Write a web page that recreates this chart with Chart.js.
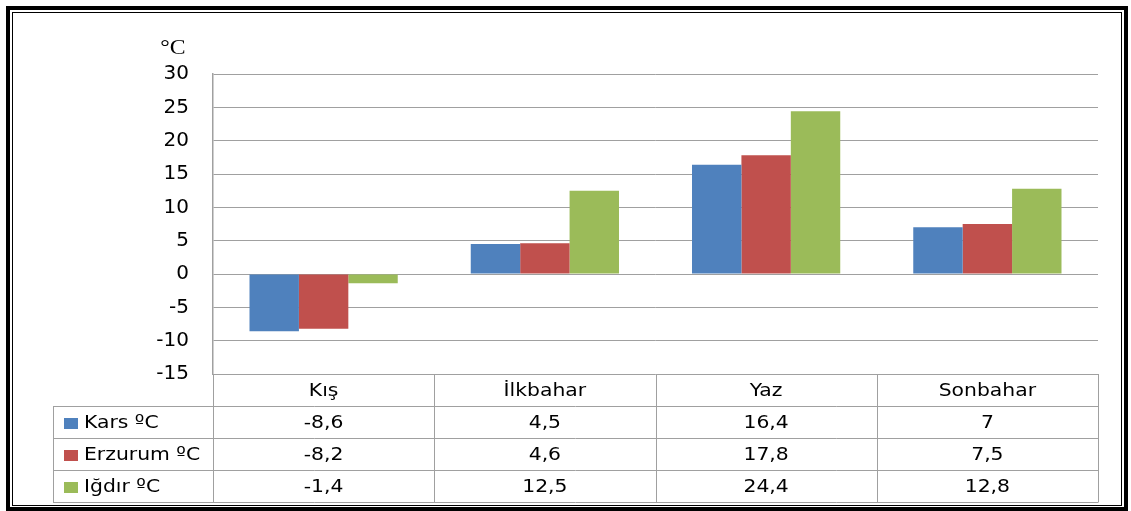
<!DOCTYPE html>
<html>
<head>
<meta charset="utf-8">
<script src="https://cdn.jsdelivr.net/npm/chart.js@4"></script>
<style>
  html, body { margin: 0; padding: 0; background: #fff; }
  #wrap { width: 1131px; height: 511px; }
</style>
</head>
<body>
<div id="wrap"><canvas id="myChart"></canvas></div>
<script>
// data
const seasons = ['Kış', 'İlkbahar', 'Yaz', 'Sonbahar'];
const seriesNames = ['Kars ºC', 'Erzurum ºC', 'Iğdır ºC'];
const karsValues = [-8.6, 4.5, 16.4, 7];
const erzurumValues = [-8.2, 4.6, 17.8, 7.5];
const igdirValues = [-1.4, 12.5, 24.4, 12.8];
const yMin = -15, yMax = 30, yStep = 5;
const unitLabel = '°C';

const colors = ['#4F81BD', '#C0504D', '#9BBB59'];
const gridColor = '#a0a0a0';
const fontFamily = '"DejaVu Sans", sans-serif';

const fmt = v => String(v).replace('.', ',');

// the source picture is a bit stretched sideways, so text is drawn wider
function wideText(ctx, text, x, y, align) {
    ctx.save();
    ctx.translate(x, y);
    ctx.scale(1.13, 1);
    ctx.textAlign = align;
    ctx.fillText(text, 0, 0);
    ctx.restore();
}

// white background + double frame
const framePlugin = {
    id: 'frame',
    beforeDraw(chart) {
        const ctx = chart.ctx;
        ctx.save();
        ctx.fillStyle = '#fff';
        ctx.fillRect(0, 0, chart.width, chart.height);
        ctx.strokeStyle = '#000';
        ctx.lineWidth = 4;
        ctx.strokeRect(8, 8, 1118, 501);
        ctx.lineWidth = 1;
        ctx.strokeRect(12.5, 12.5, 1109, 493);
        ctx.restore();
    },
    afterDraw(chart) {
        const ctx = chart.ctx;
        ctx.save();
        ctx.fillStyle = '#000';
        ctx.font = '21px "Liberation Serif", serif';
        ctx.textBaseline = 'middle';
        wideText(ctx, unitLabel, 173, 48, 'center');
        ctx.restore();
    }
};

// data table under the plot
const tablePlugin = {
    id: 'dataTable',
    afterDraw(chart) {
        const ctx = chart.ctx;
        const xs = chart.scales.x;
        const area = chart.chartArea;
        const top = area.bottom;
        const rowH = 32;
        const tableLeft = 53;
        const nRows = seriesNames.length;
        const bottom = top + rowH * (nRows + 1);
        const catW = (area.right - area.left) / seasons.length;
        const rows = [karsValues, erzurumValues, igdirValues];

        ctx.save();
        ctx.strokeStyle = gridColor;
        ctx.lineWidth = 1;
        ctx.beginPath();
        for (let r = 1; r <= nRows + 1; r++) {
            const y = Math.round(top + r * rowH) + 0.5;
            ctx.moveTo(tableLeft, y);
            ctx.lineTo(area.right, y);
        }
        ctx.moveTo(tableLeft + 0.5, top + rowH);
        ctx.lineTo(tableLeft + 0.5, bottom + 0.5);
        for (let i = 0; i <= seasons.length; i++) {
            const x = Math.round(area.left + i * catW) + 0.5;
            ctx.moveTo(x, top);
            ctx.lineTo(x, bottom + 0.5);
        }
        ctx.stroke();

        ctx.fillStyle = '#000';
        ctx.font = '18px ' + fontFamily;
        ctx.textBaseline = 'middle';
        seasons.forEach((s, i) => {
            wideText(ctx, s, xs.getPixelForValue(i), top + rowH / 2 + 1, 'center');
        });
        rows.forEach((vals, r) => {
            const cy = top + rowH * (r + 1) + rowH / 2 + 1;
            vals.forEach((v, i) => {
                wideText(ctx, fmt(v), xs.getPixelForValue(i), cy, 'center');
            });
            ctx.fillStyle = colors[r];
            ctx.fillRect(64, cy - 5, 14, 11);
            ctx.fillStyle = '#000';
            wideText(ctx, seriesNames[r], 84, cy, 'left');
        });
        ctx.restore();
    }
};

const ctx = document.getElementById('myChart').getContext('2d');
const myChart = new Chart(ctx, {
    type: 'bar',
    data: {
        labels: seasons,
        datasets: [karsValues, erzurumValues, igdirValues].map((vals, i) => ({
            label: seriesNames[i],
            data: vals,
            backgroundColor: colors[i],
            borderWidth: 0,
            categoryPercentage: 0.67,
            barPercentage: 1.0,
        })),
    },
    options: {
        responsive: true,
        maintainAspectRatio: false,
        animation: false,
        layout: { padding: { top: 74, right: 33, left: 0, bottom: 0 } },
        plugins: {
            legend: { display: false },
            tooltip: { enabled: false },
        },
        scales: {
            x: {
                ticks: { display: false },
                grid: { display: false },
                border: { display: false },
                afterFit: s => { s.height = 137; },
            },
            y: {
                min: yMin,
                max: yMax,
                ticks: {
                    stepSize: yStep,
                    color: '#000',
                    padding: 24,
                    font: { family: fontFamily, size: 20 },
                },
                grid: { color: gridColor, drawTicks: false },
                border: { color: gridColor, width: 1.5 },
                afterFit: s => { s.width = 213; },
            },
        },
    },
    plugins: [framePlugin, tablePlugin],
});
</script>
</body>
</html>
